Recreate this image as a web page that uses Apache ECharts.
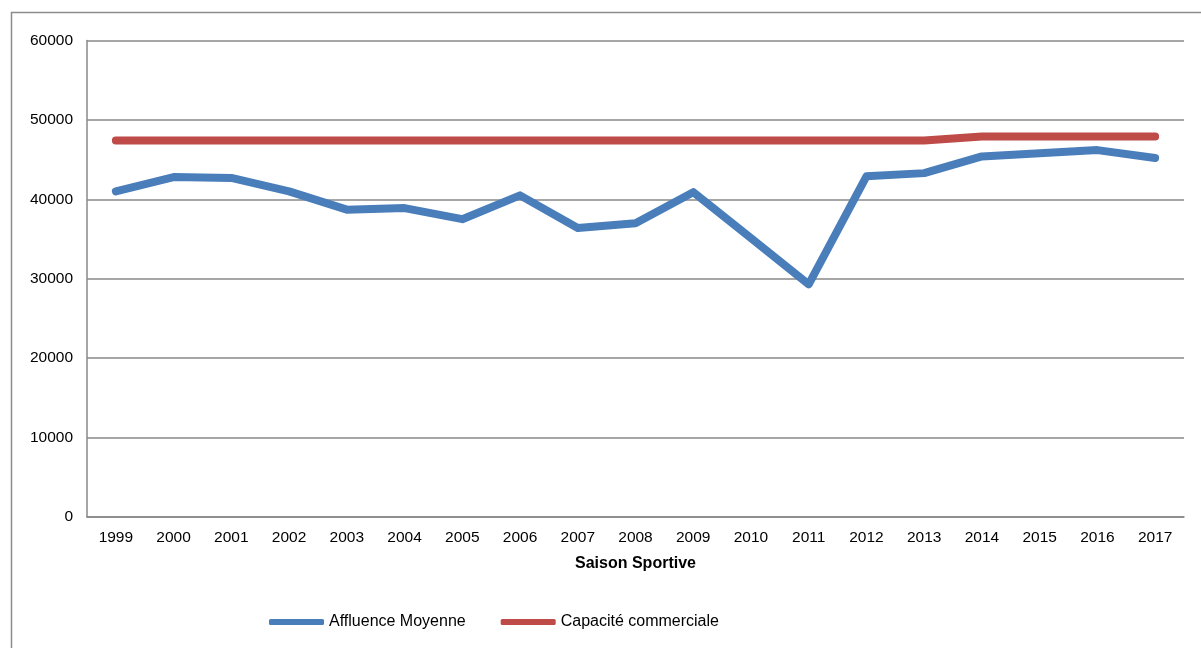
<!DOCTYPE html>
<html>
<head>
<meta charset="utf-8">
<script src="https://cdn.jsdelivr.net/npm/echarts@6/dist/echarts.min.js"></script>
<style>html,body{margin:0;padding:0;background:#fff;}#c{width:1201px;height:648px;}</style>
</head>
<body>
<div id="c"></div>
<script>
var categories = ['1999','2000','2001','2002','2003','2004','2005','2006','2007','2008','2009','2010','2011','2012','2013','2014','2015','2016','2017'];
var affluence = [41000,42800,42700,41000,38700,38900,37500,40500,36400,37000,40900,35100,29300,42900,43300,45400,45800,46200,45200];
var capacite = [47400,47400,47400,47400,47400,47400,47400,47400,47400,47400,47400,47400,47400,47400,47400,47900,47900,47900,47900];
var seriesNames = ['Affluence Moyenne','Capacité commerciale'];
var axisTitle = 'Saison Sportive';

var chart = echarts.init(document.getElementById('c'));
var font = 'Liberation Sans, Arial, sans-serif';
chart.setOption({
  animation: false,
  backgroundColor: '#fff',
  graphic: [{
    type: 'rect', silent: true,
    shape: {x: 11.5, y: 12.5, width: 1300, height: 800},
    style: {fill: 'none', stroke: '#8c8c8c', lineWidth: 1.5}
  }],
  grid: {left: 87, right: 17, top: 40.5, bottom: 131, containLabel: false},
  legend: {
    top: 609, left: 264,
    itemWidth: 55, itemHeight: 6, itemGap: 35,
    icon: 'roundRect',
    textStyle: {fontFamily: font, fontSize: 16, color: '#000'},
    data: seriesNames
  },
  xAxis: {
    type: 'category', data: categories, boundaryGap: true,
    name: axisTitle, nameLocation: 'middle', nameGap: 39,
    nameTextStyle: {fontFamily: font, fontSize: 16, fontWeight: 'bold', color: '#000'},
    axisLine: {lineStyle: {color: '#888', width: 1.5}},
    axisTick: {show: false},
    axisLabel: {fontFamily: font, fontSize: 15.5, color: '#000', margin: 13}
  },
  yAxis: {
    type: 'value', min: 0, max: 60000, interval: 10000,
    axisLine: {show: true, lineStyle: {color: '#888', width: 1.5}},
    axisTick: {show: false},
    splitLine: {lineStyle: {color: '#888', width: 1.5}},
    axisLabel: {fontFamily: font, fontSize: 15.5, color: '#000', margin: 14,
      formatter: function (v) { return String(v); }}
  },
  series: [
    {name: seriesNames[0], type: 'line', data: affluence, symbol: 'none', color: '#4A7EBB',
     lineStyle: {width: 8, cap: 'round', join: 'round', color: '#4A7EBB'}},
    {name: seriesNames[1], type: 'line', data: capacite, symbol: 'none', color: '#BE4B48',
     lineStyle: {width: 8, cap: 'round', join: 'round', color: '#BE4B48'}}
  ]
});
</script>
</body>
</html>
